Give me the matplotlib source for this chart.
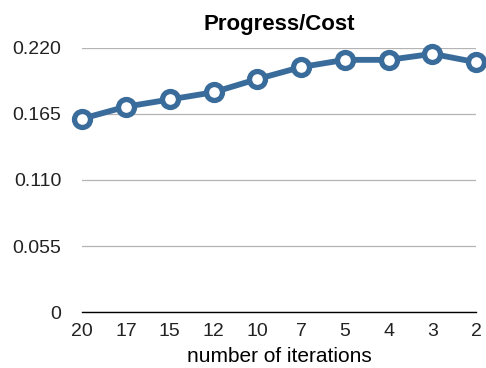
import matplotlib.pyplot as plt

# iteration counts along the bottom, progress/cost ratio per run
iterations = ['20', '17', '15', '12', '10', '7', '5', '4', '3', '2']
ratio = [0.161, 0.171, 0.177, 0.183, 0.194, 0.204, 0.210, 0.210, 0.215, 0.208]
yticks = [0, 0.055, 0.110, 0.165, 0.220]
ytick_labels = ['0', '0.055', '0.110', '0.165', '0.220']

plt.rcParams['font.family'] = ['Liberation Sans', 'DejaVu Sans']

fig = plt.figure(figsize=(4.86, 3.68), dpi=100)
ax = fig.add_axes([0.169, 0.152, 0.811, 0.718])

blue = '#3a6c9b'
xs = list(range(len(iterations)))
ax.plot(xs, ratio, color=blue, lw=4.2, marker='o', ms=11.5, mew=3.8,
        mfc='white', mec=blue, clip_on=False, zorder=5)

ax.set_xlim(0, len(iterations) - 1)
ax.set_ylim(0, 0.220)
ax.set_yticks(yticks)
ax.set_yticklabels(ytick_labels)
ax.set_xticks(xs)
ax.set_xticklabels(iterations)

ax.grid(axis='y', color='#b4b4b4', lw=0.9)
ax.set_axisbelow(True)
for s in ['top', 'right', 'left']:
    ax.spines[s].set_visible(False)
ax.spines['bottom'].set_color('black')
ax.spines['bottom'].set_linewidth(1.0)

ax.tick_params(axis='both', length=0, labelsize=14, colors='#222222')
ax.tick_params(axis='y', pad=15)
ax.tick_params(axis='x', pad=8)

ax.set_title('Progress/Cost', fontsize=16, fontweight='bold', pad=13)
ax.set_xlabel('number of iterations', fontsize=15, labelpad=5)

fig.savefig('out.png', dpi=100)
